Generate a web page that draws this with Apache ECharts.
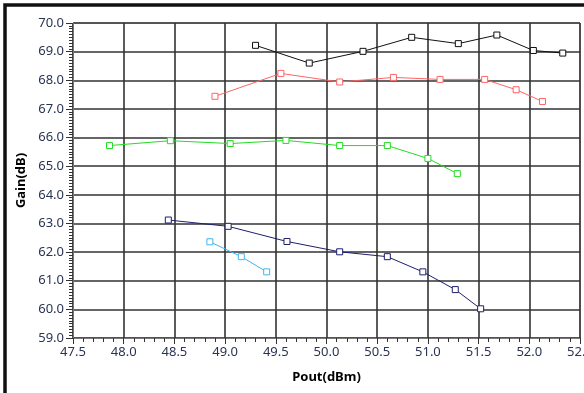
<!DOCTYPE html>
<html>
<head>
<meta charset="utf-8">
<script src="https://cdn.jsdelivr.net/npm/echarts@6/dist/echarts.min.js"></script>
<style>
html,body{margin:0;padding:0;background:#fff;overflow:hidden;}
#c{width:584px;height:393px;}
</style>
</head>
<body>
<div id="c"></div>
<script>
// Series data: [Pout(dBm), Gain(dB)]
const seriesBlack = [[49.30,69.22],[49.83,68.60],[50.36,69.01],[50.84,69.50],[51.30,69.28],[51.68,69.58],[52.04,69.04],[52.33,68.95]];
const seriesRed = [[48.90,67.44],[49.55,68.24],[50.13,67.94],[50.66,68.10],[51.12,68.03],[51.56,68.03],[51.87,67.67],[52.13,67.26]];
const seriesGreen = [[47.86,65.72],[48.46,65.89],[49.05,65.79],[49.60,65.90],[50.13,65.72],[50.60,65.72],[51.00,65.27],[51.29,64.74]];
const seriesNavy = [[48.44,63.12],[49.03,62.90],[49.61,62.37],[50.13,62.01],[50.60,61.84],[50.95,61.31],[51.27,60.69],[51.52,60.02]];
const seriesLightBlue = [[48.85,62.36],[49.16,61.84],[49.41,61.31]];
const xTicks = [47.5,48.0,48.5,49.0,49.5,50.0,50.5,51.0,51.5,52.0,52.5];
const yTicks = [59,60,61,62,63,64,65,66,67,68,69,70];

const colors = ['#111111','#ff6464','#22dd22','#1e1e6e','#3db6ee'];
const allData = [seriesBlack, seriesRed, seriesGreen, seriesNavy, seriesLightBlue];

const chart = echarts.init(document.getElementById('c'));
const labelColor = '#2a3452';
const font = 'Noto Sans';
chart.setOption({
  animation: false,
  backgroundColor: '#fff',
  grid: {left: 73, right: 4, top: 23, height: 315, show: true, borderColor: '#777', borderWidth: 1,
         containLabel: false, outerBoundsMode: 'none'},
  xAxis: {
    type: 'value', min: xTicks[0], max: xTicks[xTicks.length-1], interval: 0.5,
    name: 'Pout(dBm)', nameLocation: 'middle', nameGap: 33,
    nameTextStyle: {color: '#000', fontWeight: 'bold', fontSize: 13, fontFamily: font},
    axisLine: {show: true, lineStyle: {color: '#777', width: 1}},
    axisTick: {show: true, length: 6, lineStyle: {color: '#333'}},
    minorTick: {show: true, splitNumber: 5, length: 4, lineStyle: {color: '#333'}},
    axisLabel: {color: labelColor, fontSize: 13, fontFamily: font, margin: 8, formatter: v => v.toFixed(1),
                hideOverlap: false, showMaxLabel: true, showMinLabel: true, alignMaxLabel: 'center', alignMinLabel: 'center'},
    splitLine: {show: true, lineStyle: {color: '#333', width: 1.6}}
  },
  yAxis: {
    type: 'value', min: yTicks[0], max: yTicks[yTicks.length-1], interval: 1,
    name: 'Gain(dB)', nameLocation: 'middle', nameGap: 44,
    nameTextStyle: {color: '#000', fontWeight: 'bold', fontSize: 13, fontFamily: font},
    axisLine: {show: true, lineStyle: {color: '#777', width: 1}},
    axisTick: {show: true, length: 7, lineStyle: {color: '#333'}},
    minorTick: {show: true, splitNumber: 10, length: 4, lineStyle: {color: '#333'}},
    axisLabel: {color: labelColor, fontSize: 13, fontFamily: font, margin: 9, formatter: v => v.toFixed(1)},
    splitLine: {show: true, lineStyle: {color: '#333', width: 1.6}}
  },
  series: allData.map((d, i) => ({
    type: 'line', data: d, symbol: 'rect', symbolSize: 6, showAllSymbol: true,
    lineStyle: {color: colors[i], width: 1},
    itemStyle: {color: '#fff', borderColor: colors[i], borderWidth: 1},
    z: 3
  })),
  graphic: [{
    type: 'rect', silent: true, z: 100,
    shape: {x: 5, y: 5, width: 700, height: 500},
    style: {fill: 'none', stroke: '#111', lineWidth: 3.5}
  }]
});
</script>
</body>
</html>
